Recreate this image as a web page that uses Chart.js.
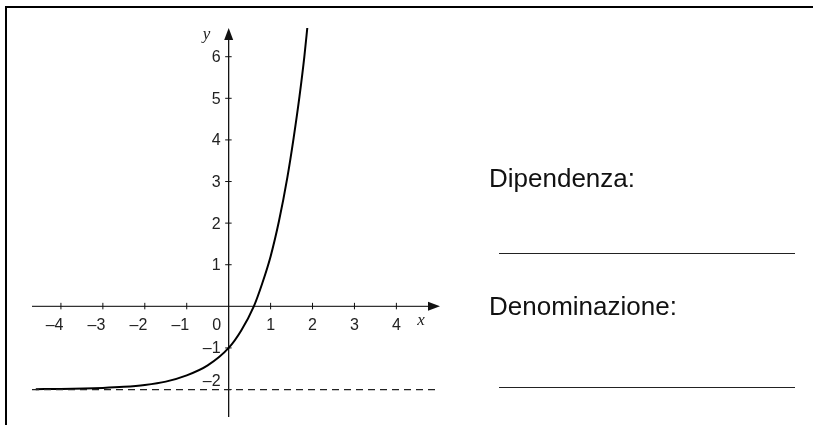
<!DOCTYPE html>
<html>
<head>
<meta charset="utf-8">
<script src="https://cdn.jsdelivr.net/npm/chart.js@4.4.1/dist/chart.umd.min.js"></script>
<style>
  body { margin: 0; background: #fff; }
  #wrap { position: relative; width: 813px; height: 425px; overflow: hidden; font-family: "Liberation Sans", Arial, sans-serif; }
  #frame { position: absolute; left: 5px; top: 6px; width: 900px; height: 500px; border-top: 2px solid #000; border-left: 2px solid #000; }
  canvas { position: absolute; left: 0; top: 0; }
  .lab { position: absolute; font-size: 26px; line-height: 26px; color: #111; white-space: nowrap; }
  .blank { position: absolute; left: 499px; width: 296px; height: 0; border-top: 1px solid #222; }
</style>
</head>
<body>
<div id="wrap">
  <div id="frame"></div>
  <canvas id="chart" width="813" height="425"></canvas>
  <div class="lab" style="left:489px; top:165px;">Dipendenza:</div>
  <div class="blank" style="top:253px;"></div>
  <div class="lab" style="left:489px; top:293px;">Denominazione:</div>
  <div class="blank" style="top:387px;"></div>
</div>
<script>
// curve points
const curveX = [-4.6, -4, -3, -2.5, -2, -1.5, -1, -0.5, 0, 0.3, 0.6, 0.8, 1.0, 1.2, 1.4, 1.55, 1.69, 1.805, 1.885];
const curveY = [-1.99, -1.985, -1.96, -1.935, -1.89, -1.81, -1.66, -1.42, -1, -0.58, 0, 0.55, 1.2, 2.05, 3.1, 4.05, 5.05, 6, 6.79];

// horizontal asymptote (dashed)
const asymX = [-4.69, 5.04];
const asymY = [-2, -2];

// axis ranges and tick labels
const xRange = [-4.69, 5.04];
const yRange = [-2.66, 6.69];
const xTicks = [-4, -3, -2, -1, 1, 2, 3, 4];
const yTicks = [-2, -1, 1, 2, 3, 4, 5, 6];

const fmt = (v) => (v < 0 ? "\u2013" + Math.abs(v) : String(v));

// draws the axes with arrows, ticks and labels through the chart scales
const axesPlugin = {
  id: "axes",
  beforeDatasetsDraw(chart) {
    const ctx = chart.ctx;
    const xs = chart.scales.x;
    const ys = chart.scales.y;
    const x0 = xs.getPixelForValue(0);
    const y0 = ys.getPixelForValue(0);
    const left = xs.getPixelForValue(xRange[0]);
    const right = xs.getPixelForValue(xRange[1]);
    const top = ys.getPixelForValue(yRange[1]);
    const bottom = ys.getPixelForValue(yRange[0]);

    ctx.save();
    ctx.strokeStyle = "#333";
    ctx.fillStyle = "#111";
    ctx.lineWidth = 1.3;

    // x axis
    ctx.beginPath();
    ctx.moveTo(left, y0);
    ctx.lineTo(right - 6, y0);
    ctx.stroke();
    ctx.beginPath();
    ctx.moveTo(right, y0);
    ctx.lineTo(right - 12, y0 - 4.5);
    ctx.lineTo(right - 12, y0 + 4.5);
    ctx.closePath();
    ctx.fill();

    // y axis
    ctx.strokeStyle = "#111";
    ctx.beginPath();
    ctx.moveTo(x0, bottom);
    ctx.lineTo(x0, top + 6);
    ctx.stroke();
    ctx.beginPath();
    ctx.moveTo(x0, top);
    ctx.lineTo(x0 - 4.5, top + 12);
    ctx.lineTo(x0 + 4.5, top + 12);
    ctx.closePath();
    ctx.fill();

    ctx.font = '16px "Liberation Sans", Arial, sans-serif';
    ctx.fillStyle = "#222";
    ctx.lineWidth = 1;

    xTicks.forEach((v) => {
      const px = xs.getPixelForValue(v);
      ctx.beginPath();
      ctx.moveTo(px, y0 - 3.5);
      ctx.lineTo(px, y0 + 3);
      ctx.stroke();
      if (v < 0) {
        ctx.textAlign = "right";
        ctx.fillText(fmt(v), px + 2.5, y0 + 23.5);
      } else {
        ctx.textAlign = "center";
        ctx.fillText(fmt(v), px, y0 + 23.5);
      }
    });

    yTicks.forEach((v) => {
      const py = ys.getPixelForValue(v);
      ctx.beginPath();
      ctx.moveTo(x0 - 3.5, py);
      ctx.lineTo(x0 + 3, py);
      ctx.stroke();
      ctx.textAlign = "right";
      const dy = v === -2 ? -3.5 : 5.5;
      ctx.fillText(fmt(v), x0 - 8, py + dy);
    });

    // origin
    ctx.textAlign = "center";
    ctx.fillText("0", x0 - 12, y0 + 23.5);

    // axis names
    ctx.font = 'italic 17px "Liberation Serif", "Times New Roman", serif';
    ctx.textAlign = "left";
    ctx.fillText("x", xs.getPixelForValue(4.5), y0 + 19);
    ctx.fillText("y", x0 - 26, top + 11);
    ctx.restore();
  },
};

const toPoints = (xsArr, ysArr) => xsArr.map((x, i) => ({ x: x, y: ysArr[i] }));

new Chart(document.getElementById("chart"), {
  type: "scatter",
  data: {
    datasets: [
      {
        label: "asintoto",
        data: toPoints(asymX, asymY),
        showLine: true,
        borderColor: "#222",
        borderWidth: 1.2,
        borderDash: [7, 5],
        pointRadius: 0,
      },
      {
        label: "curva",
        data: toPoints(curveX, curveY),
        showLine: true,
        borderColor: "#000",
        borderWidth: 2,
        pointRadius: 0,
        cubicInterpolationMode: "monotone",
      },
    ],
  },
  options: {
    responsive: false,
    animation: false,
    layout: { padding: { left: 32, right: 373, top: 28, bottom: 8 } },
    plugins: { legend: { display: false }, tooltip: { enabled: false } },
    scales: {
      x: { type: "linear", min: xRange[0], max: xRange[1], display: false },
      y: { type: "linear", min: yRange[0], max: yRange[1], display: false },
    },
  },
  plugins: [axesPlugin],
});
</script>
</body>
</html>
